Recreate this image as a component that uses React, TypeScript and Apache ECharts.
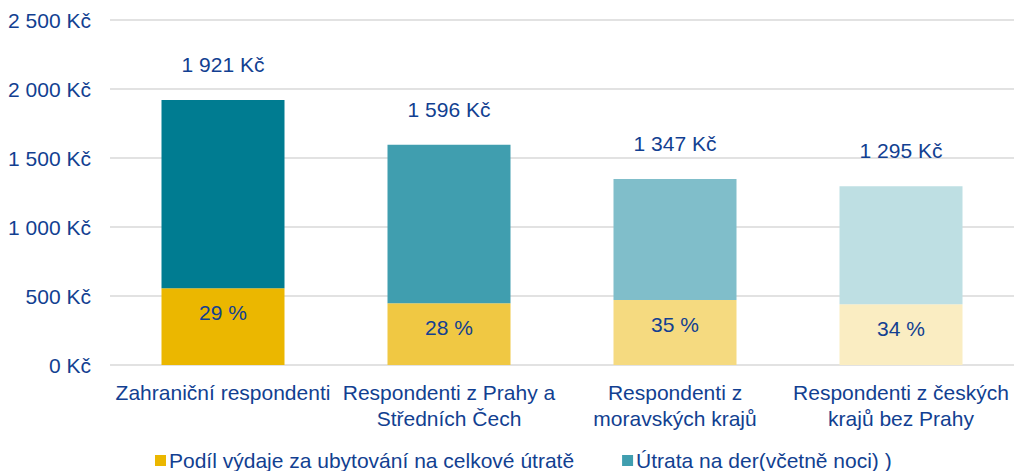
import React, { useEffect, useRef } from "react";
import * as echarts from "echarts";

const categories = [
  "Zahraniční respondenti",
  "Respondenti z Prahy a\nStředních Čech",
  "Respondenti z\nmoravských krajů",
  "Respondenti z českých\nkrajů bez Prahy",
];
const totals = [1921, 1596, 1347, 1295];
const sharePct = [29, 28, 35, 34];
const accommodation = [557, 447, 471, 440];
const otherSpend = [1364, 1149, 876, 855];
const yTicks = [0, 500, 1000, 1500, 2000, 2500];

const seriesNames = [
  "Podíl výdaje za ubytování na celkové útratě",
  "Útrata na der(včetně noci) )",
];
const yellowShades = ["#EBB700", "#F0C843", "#F5DA80", "#FAEDC2"];
const tealShades = ["#007C91", "#409EAF", "#80BECA", "#BEDFE3"];

const BLUE = "#123F91";
const FONT = "'Liberation Sans', Arial, sans-serif";

const fmtKc = (v: number) =>
  String(v).replace(/\B(?=(\d{3})+(?!\d))/g, " ") + " Kč";

export default function App() {
  const ref = useRef<HTMLDivElement>(null);
  useEffect(() => {
    if (!ref.current) return;
    const chart = echarts.init(ref.current, undefined, { renderer: "svg" });
    chart.setOption({
      animation: false,
      textStyle: { fontFamily: FONT, color: BLUE },
      grid: { left: 110, right: 0, top: 20, bottom: 106, containLabel: false },
      legend: {
        left: 155,
        top: 450,
        padding: 0,
        itemWidth: 11,
        itemHeight: 11,
        itemGap: 48,
        icon: "rect",
        textStyle: { fontFamily: FONT, fontSize: 21, color: BLUE, padding: [0, 0, 0, -2] },
        data: seriesNames,
      },
      xAxis: {
        type: "category",
        data: categories,
        axisLine: { show: false },
        axisTick: { show: false },
        axisLabel: {
          interval: 0,
          margin: 14,
          fontFamily: FONT,
          fontSize: 21,
          lineHeight: 26,
          color: BLUE,
        },
      },
      yAxis: {
        type: "value",
        min: yTicks[0],
        max: yTicks[yTicks.length - 1],
        interval: 500,
        axisLine: { show: false },
        axisTick: { show: false },
        splitLine: { lineStyle: { color: "#D9D9D9", width: 1.5 } },
        axisLabel: {
          margin: 19,
          fontFamily: FONT,
          fontSize: 21,
          color: BLUE,
          formatter: (v: number) => fmtKc(v),
        },
      },
      series: [
        {
          name: seriesNames[0],
          type: "bar",
          stack: "s",
          barWidth: 123,
          itemStyle: { color: yellowShades[0] },
          data: accommodation.map((v, i) => ({
            value: v,
            itemStyle: { color: yellowShades[i] },
          })),
          label: {
            show: true,
            position: "insideTop",
            distance: 14,
            fontFamily: FONT,
            fontSize: 21,
            color: BLUE,
            formatter: (p: any) => sharePct[p.dataIndex] + " %",
          },
        },
        {
          name: seriesNames[1],
          type: "bar",
          stack: "s",
          barWidth: 123,
          itemStyle: { color: tealShades[1] },
          data: otherSpend.map((v, i) => ({
            value: v,
            itemStyle: { color: tealShades[i] },
          })),
          label: {
            show: true,
            position: "top",
            distance: 25,
            fontFamily: FONT,
            fontSize: 21,
            color: BLUE,
            formatter: (p: any) => fmtKc(totals[p.dataIndex]),
          },
        },
      ],
    });
    return () => chart.dispose();
  }, []);
  return <div ref={ref} style={{ width: 1014, height: 471, position: "absolute", left: 0, top: 0 }} />;
}
